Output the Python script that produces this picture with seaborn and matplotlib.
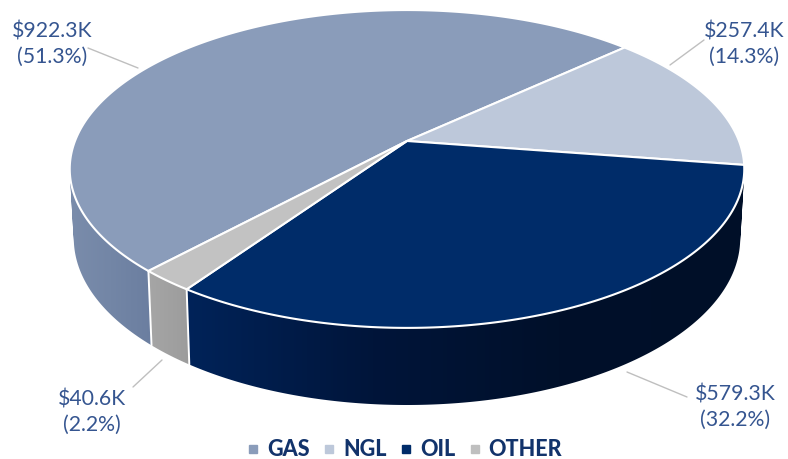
import numpy as np
import seaborn as sns
import matplotlib.pyplot as plt
from matplotlib.lines import Line2D
from matplotlib.path import Path

categories = ['GAS', 'NGL', 'OIL', 'OTHER']
values = [922.3, 257.4, 579.3, 40.6]
percents = [51.3, 14.3, 32.2, 2.2]

top_colors = ['#8A9CBA', '#BDC8DA', '#002C69', '#C2C2C2']
side_stops = [['#7A8CAB', '#7386A6', '#6B7EA0'],
              ['#8F9DB5', '#8F9DB5'],
              ['#002359', '#00153A', '#00102A', '#000F28'],
              ['#A6A6A6', '#9C9C9C']]
legend_colors = ['#8A9CBA', '#BDC8DA', '#002C69', '#BFBFBF']

START_ANGLE = 227.3
CENTER_X = 407
TOP_APEX_Y = 141
BOTTOM_APEX_Y = 209
TILT = 0.176


def project(theta, apex_y, scale_x, scale_y):
    u, v = np.cos(theta), np.sin(theta)
    return CENTER_X + scale_x * u / (1 + TILT * v), apex_y - scale_y * v / (1 + TILT * v)


def top_rim(theta):
    return project(theta, TOP_APEX_Y, 332, 154)


def bottom_rim(theta):
    return project(theta, BOTTOM_APEX_Y, 328, 161.5)


def wall_path(a):
    # union of small quads, all wound the same way, so the outer silhouette is kept
    x1, y1 = top_rim(a)
    x2, y2 = bottom_rim(a)
    quads = []
    for j in range(len(a) - 1):
        q = np.array([[x1[j], y1[j]], [x1[j + 1], y1[j + 1]], [x2[j + 1], y2[j + 1]], [x2[j], y2[j]]])
        area = np.sum(q[:, 0] * np.roll(q[:, 1], -1) - np.roll(q[:, 0], -1) * q[:, 1])
        if area < 0:
            q = q[::-1]
        quads.append(Path(np.vstack([q, q[0]]), closed=True))
    return Path.make_compound_path(*quads)


sns.set_theme(style="white")
plt.rcParams['font.family'] = ['Lato', 'DejaVu Sans']

fig, ax = plt.subplots(figsize=(7.88, 4.59), dpi=100)
fig.subplots_adjust(0, 0, 1, 1)

sweeps = 360 * np.array(values) / np.sum(values)
ends = START_ANGLE - np.cumsum(sweeps)
starts = ends + sweeps

# side walls first, only the front half shows
for i in range(len(values)):
    a = np.radians(np.linspace(starts[i], ends[i], 300))
    a = a[np.sin(a) < 0.12]
    if len(a) < 2:
        continue
    x1, y1 = top_rim(a)
    x2, y2 = bottom_rim(a)
    xs = np.r_[x1, x2]
    ys = np.r_[y1, y2]
    cmap = sns.blend_palette(side_stops[i], as_cmap=True)
    im = ax.imshow(np.linspace(0, 1, 256)[None, :], cmap=cmap, aspect='auto', zorder=2,
                   extent=[xs.min(), xs.max(), ys.max(), ys.min()])
    im.set_clip_path(wall_path(a), transform=ax.transData)
    if categories[i] == 'OTHER':
        for t in (a[0], a[-1]):
            xa, ya = top_rim(t)
            xb, yb = bottom_rim(t)
            ax.plot([xa, xb], [ya, yb], color='white', lw=1.4, zorder=3)

# top faces
for i in range(len(values)):
    a = np.radians(np.linspace(starts[i], ends[i], 200))
    x, y = top_rim(a)
    ax.fill(np.r_[CENTER_X, x], np.r_[TOP_APEX_Y, y], facecolor=top_colors[i],
            edgecolor='white', lw=1.5, joinstyle='round', zorder=4)

# labels and leader lines
label_pos = [(52, 44), (744, 44), (735, 407), (92, 412)]
leaders = [((88, 48), (138, 68)), ((670, 65), (704, 40)),
           ((627, 372), (687, 397)), ((162, 360), (133, 387))]
for i in range(len(values)):
    ax.text(label_pos[i][0], label_pos[i][1], f'${values[i]}K\n({percents[i]}%)',
            ha='center', va='center', fontsize=15.3, color='#355590',
            linespacing=1.35, zorder=6)
    ax.plot(*zip(*leaders[i]), color='#BFBFBF', lw=1, zorder=1)

ax.set_xlim(0, 788)
ax.set_ylim(459, 0)
ax.axis('off')

handles = [Line2D([], [], ls='none', marker='s', ms=6, color=c) for c in legend_colors]
ax.legend(handles, categories, loc='center', bbox_to_anchor=(404.5 / 788, 1 - 450 / 459), ncol=4,
          frameon=False, handlelength=0.6, handletextpad=0.35, columnspacing=0.6, borderpad=0,
          prop={'family': 'Lato', 'weight': 'black', 'size': 15.5}, labelcolor='#12336B')

fig.savefig('out.png', dpi=100)
